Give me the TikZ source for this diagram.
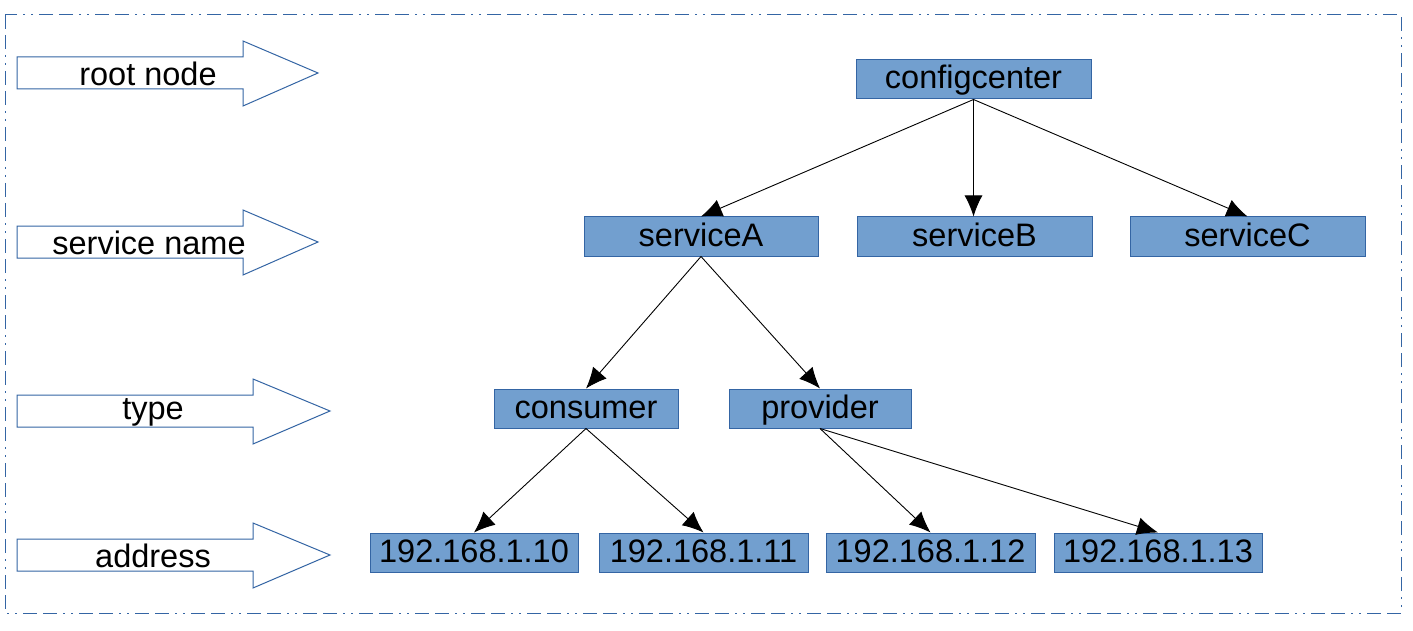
\documentclass[tikz,border=0pt]{standalone}
\usepackage{fontspec}
\setmainfont{Liberation Sans}
\usetikzlibrary{arrows.meta}
\definecolor{boxfill}{HTML}{729FCF}
\definecolor{boxline}{HTML}{3465A4}
\tikzset{
  tbox/.style={draw=boxline, fill=boxfill, line width=1pt, minimum height=39pt, inner sep=0pt, text height=23pt, text depth=4pt, font=\fontsize{32.5}{32.5}\selectfont, text=black},
  conn/.style={line width=0.9pt, -{Latex[length=21pt,width=18pt]}},
  blockarrow/.style={draw=boxline, fill=white, line width=1pt},
  lbl/.style={font=\fontsize{32.5}{32.5}\selectfont, inner sep=0pt},
}
\begin{document}
\begin{tikzpicture}[x=1pt,y=-1pt]
\useasboundingbox (0,0) rectangle (1413,631);
\draw[boxline, line width=1pt, dash pattern=on 14pt off 6pt on 14pt off 6pt on 2pt off 6pt on 2pt off 6pt] (5,15) rectangle (1401,613);

% level arrows
\draw[blockarrow] (17,57) -- (243,57) -- (243,41) -- (318,73) -- (243,106) -- (243,89) -- (17,89) -- cycle;
\node[lbl] (l1) at (148,74) {root node};
\draw[blockarrow] (17,226) -- (243,226) -- (243,210) -- (318,242) -- (243,275) -- (243,258) -- (17,258) -- cycle;
\node[lbl] (l2) at (149,243) {service name};
\draw[blockarrow] (17,395) -- (253,395) -- (253,379) -- (330,411) -- (253,444) -- (253,427) -- (17,427) -- cycle;
\node[lbl] (l3) at (153,412) {type};
\draw[blockarrow] (17,539) -- (253,539) -- (253,523) -- (330,555) -- (253,588) -- (253,571) -- (17,571) -- cycle;
\node[lbl] (l4) at (153,556) {address};

% tree nodes
\node[tbox, minimum width=235pt] (cc) at (973.5,79.5) {configcenter};
\node[tbox, minimum width=234pt] (sa) at (701,236.5) {serviceA};
\node[tbox, minimum width=235pt] (sb) at (974.5,236.5) {serviceB};
\node[tbox, minimum width=235pt] (sc) at (1247.5,236.5) {serviceC};
\node[tbox, minimum width=184pt] (con) at (586,408.5) {consumer};
\node[tbox, minimum width=182pt] (pro) at (820,408.5) {provider};
\node[tbox, minimum width=208pt] (a10) at (474,552.5) {192.168.1.10};
\node[tbox, minimum width=209pt] (a11) at (703.5,552.5) {192.168.1.11};
\node[tbox, minimum width=209pt] (a12) at (930.5,552.5) {192.168.1.12};
\node[tbox, minimum width=208pt] (a13) at (1158,552.5) {192.168.1.13};

% connectors
\draw[conn] (cc.south) -- (sa.north);
\draw[conn] (cc.south) -- (sb.north -| cc.south);
\draw[conn] (cc.south) -- (sc.north);
\draw[conn] (sa.south) -- (con.north);
\draw[conn] (sa.south) -- (pro.north);
\draw[conn] (con.south) -- (a10.north);
\draw[conn] (con.south) -- (a11.north);
\draw[conn] (pro.south) -- (a12.north);
\draw[conn] (pro.south) -- (a13.north);
\end{tikzpicture}
\end{document}
